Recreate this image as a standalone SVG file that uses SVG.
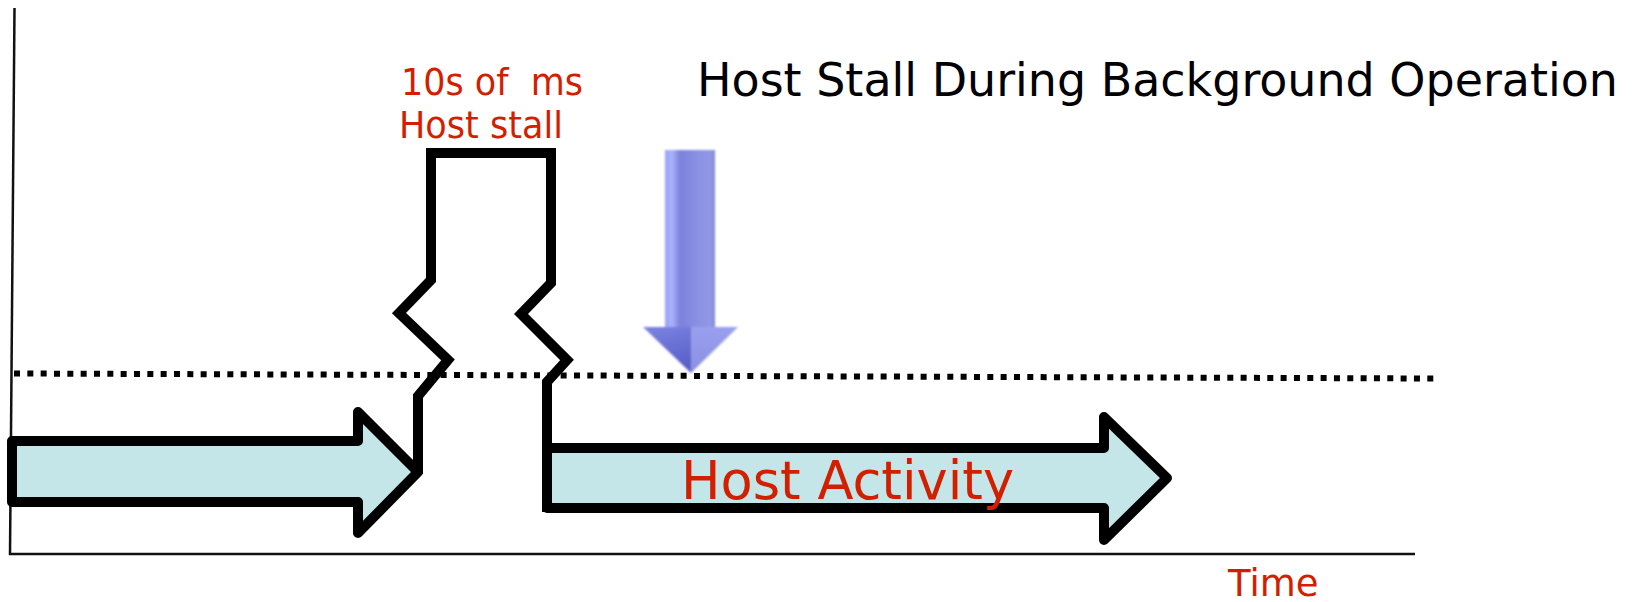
<svg xmlns="http://www.w3.org/2000/svg" width="1639" height="602" viewBox="0 0 1639 602">
  <style>
    .axis { stroke: #111; stroke-width: 2.5; fill: none; }
    .thresh { stroke: #000; stroke-width: 6; stroke-dasharray: 6 7.333; fill: none; }
    .flow { fill: #c4e6e8; stroke: #000; stroke-width: 10; stroke-linejoin: round; }
    .stall { fill: none; stroke: #000; stroke-width: 10; stroke-linejoin: miter; stroke-miterlimit: 10; }
    .red { fill: #d21f00; font-family: "DejaVu Sans", "Liberation Sans", sans-serif; }
    .title { fill: #000; font-family: "DejaVu Sans", "Liberation Sans", sans-serif; font-size: 46px; }
  </style>
  <defs>
    <linearGradient id="shaftGrad" x1="0" y1="0" x2="1" y2="0">
      <stop offset="0" stop-color="#9aa2f2"/>
      <stop offset="0.14" stop-color="#aab2fc"/>
      <stop offset="0.3" stop-color="#7c82dc"/>
      <stop offset="0.65" stop-color="#8a90e4"/>
      <stop offset="0.92" stop-color="#9298e4"/>
      <stop offset="1" stop-color="#7e84d4"/>
    </linearGradient>
    <linearGradient id="headLeft" x1="0" y1="0" x2="0.3" y2="1">
      <stop offset="0" stop-color="#7c84e2"/>
      <stop offset="1" stop-color="#5a60c8"/>
    </linearGradient>
    <linearGradient id="headRight" x1="0" y1="0" x2="0" y2="1">
      <stop offset="0" stop-color="#9aa0ee"/>
      <stop offset="1" stop-color="#8a90e2"/>
    </linearGradient>
    <filter id="soft" x="-20%" y="-5%" width="140%" height="110%">
      <feGaussianBlur stdDeviation="0.8"/>
    </filter>
  </defs>

  <rect width="1639" height="602" fill="#fff"/>

  <!-- time axes -->
  <g id="axes">
    <line class="axis" x1="14.5" y1="8" x2="10" y2="555"/>
    <line class="axis" x1="9" y1="554" x2="1415" y2="554"/>
  </g>

  <!-- dotted threshold line -->
  <g id="threshold">
    <line class="thresh" x1="14" y1="373.5" x2="1433.3" y2="378.5"/>
  </g>

  <!-- activity before the stall -->
  <g id="activity-before">
    <polygon class="flow" points="12,441 358,441 358,412 418,472 358,533 358,502 12,502"/>
  </g>

  <!-- activity after the stall -->
  <g id="activity-after">
    <polygon class="flow" points="547,448 1104,448 1104,417 1167,478 1104,540 1104,508 547,508"/>
  </g>

  <!-- stall pulse with break marks -->
  <g id="connectors">
    <polyline class="stall" points="418,474 418,396 448,360 399,313 431,280 431,153 551,153 551,283 521,314 567,360 547,382 547,512"/>
  </g>

  <!-- background operation marker -->
  <g id="bg-op-arrow" filter="url(#soft)">
    <rect x="665" y="150" width="50" height="178" fill="url(#shaftGrad)"/>
    <polygon points="643,327 691,327 691,373" fill="url(#headLeft)"/>
    <polygon points="691,327 738,327 691,373" fill="url(#headRight)"/>
  </g>

  <!-- labels -->
  <g id="labels">
    <text class="red" x="401" y="95" font-size="38" xml:space="preserve" textLength="182" lengthAdjust="spacingAndGlyphs">10s of  ms</text>
    <text class="red" x="399" y="138" font-size="38" textLength="164" lengthAdjust="spacingAndGlyphs">Host stall</text>
    <text class="title" x="697" y="96" textLength="921" lengthAdjust="spacingAndGlyphs">Host Stall During Background Operation</text>
    <text class="red" x="681" y="499" font-size="53" textLength="333" lengthAdjust="spacingAndGlyphs">Host Activity</text>
    <text class="red" x="1228" y="596" font-size="37">Time</text>
  </g>
</svg>
